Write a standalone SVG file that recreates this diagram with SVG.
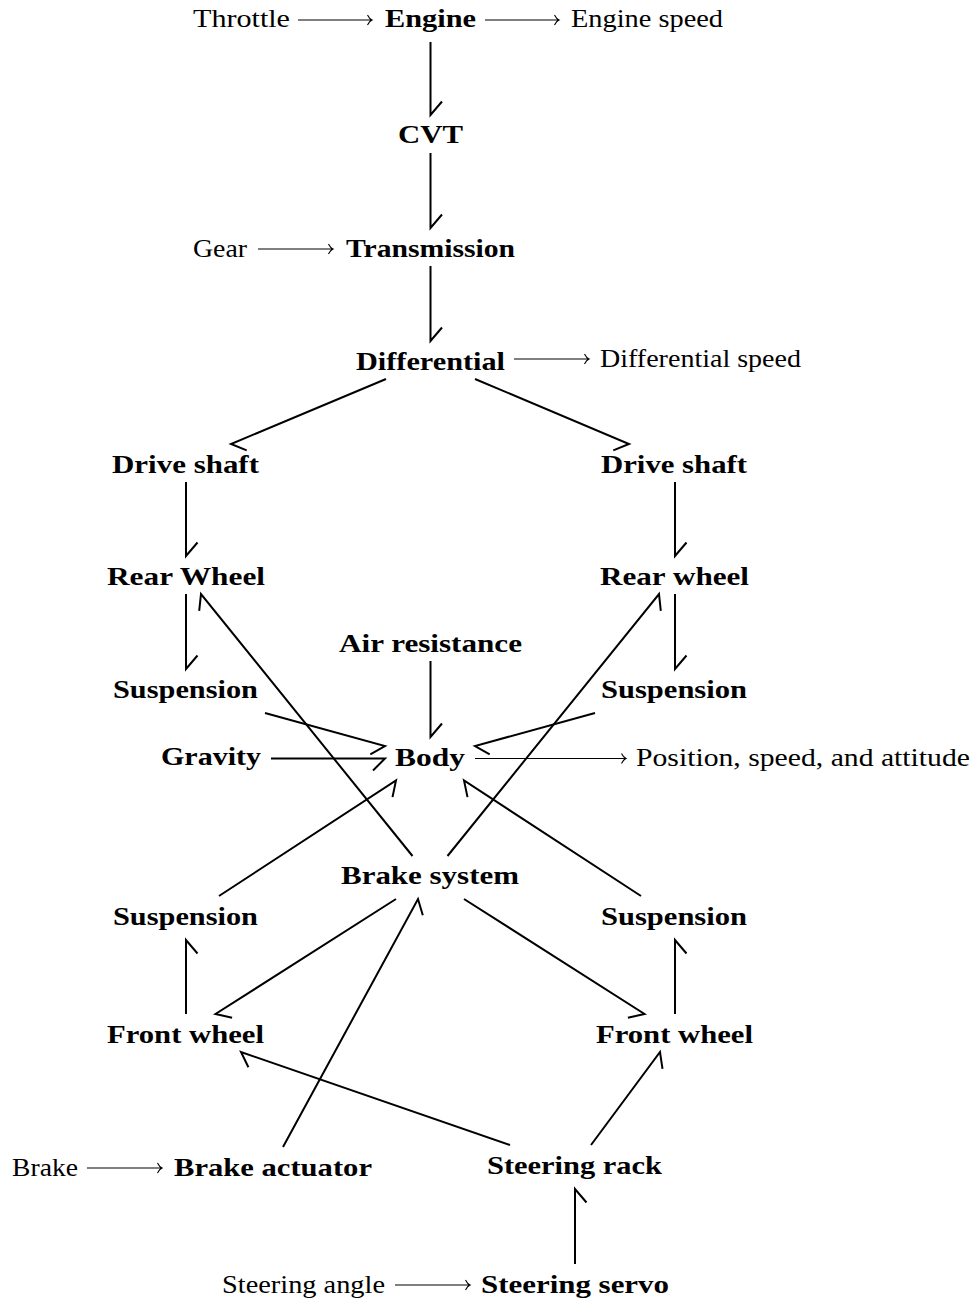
<svg xmlns="http://www.w3.org/2000/svg" width="975" height="1301" viewBox="0 0 975 1301">
<style>
text{font-family:"Liberation Serif","Times New Roman",serif;font-size:26px;fill:#000}
.b{font-weight:bold}
.e{stroke:#000;stroke-width:2;fill:none;stroke-linejoin:miter}
.a{stroke:#000;stroke-width:1.1;fill:none}
</style>
<rect width="975" height="1301" fill="#fff"/>
<g id="inputs">
<text x="193" y="27" textLength="97" lengthAdjust="spacingAndGlyphs">Throttle</text>
<text x="571" y="27" textLength="152" lengthAdjust="spacingAndGlyphs">Engine speed</text>
<text x="193" y="257" textLength="54" lengthAdjust="spacingAndGlyphs">Gear</text>
<text x="600" y="367" textLength="201" lengthAdjust="spacingAndGlyphs">Differential speed</text>
<text x="636" y="766" textLength="334" lengthAdjust="spacingAndGlyphs">Position, speed, and attitude</text>
<text x="12" y="1176" textLength="66" lengthAdjust="spacingAndGlyphs">Brake</text>
<text x="222" y="1293" textLength="163" lengthAdjust="spacingAndGlyphs">Steering angle</text>
</g>
<g id="engine"><text class="b" x="385" y="27" textLength="91" lengthAdjust="spacingAndGlyphs">Engine</text></g>
<g id="cvt"><text class="b" x="398" y="143" textLength="65" lengthAdjust="spacingAndGlyphs">CVT</text></g>
<g id="transmission"><text class="b" x="346" y="257" textLength="169" lengthAdjust="spacingAndGlyphs">Transmission</text></g>
<g id="differential"><text class="b" x="356" y="370" textLength="149" lengthAdjust="spacingAndGlyphs">Differential</text></g>
<g id="driveshaft-l"><text class="b" x="112" y="473" textLength="147" lengthAdjust="spacingAndGlyphs">Drive shaft</text></g>
<g id="driveshaft-r"><text class="b" x="601" y="473" textLength="146" lengthAdjust="spacingAndGlyphs">Drive shaft</text></g>
<g id="rearwheel-l"><text class="b" x="107" y="585" textLength="158" lengthAdjust="spacingAndGlyphs">Rear Wheel</text></g>
<g id="rearwheel-r"><text class="b" x="600" y="585" textLength="149" lengthAdjust="spacingAndGlyphs">Rear wheel</text></g>
<g id="air"><text class="b" x="339" y="652" textLength="183" lengthAdjust="spacingAndGlyphs">Air resistance</text></g>
<g id="susp-rl"><text class="b" x="113" y="698" textLength="145" lengthAdjust="spacingAndGlyphs">Suspension</text></g>
<g id="susp-rr"><text class="b" x="601" y="698" textLength="146" lengthAdjust="spacingAndGlyphs">Suspension</text></g>
<g id="gravity"><text class="b" x="161" y="765" textLength="100" lengthAdjust="spacingAndGlyphs">Gravity</text></g>
<g id="body"><text class="b" x="395" y="765.5" textLength="70" lengthAdjust="spacingAndGlyphs">Body</text></g>
<g id="brakesystem"><text class="b" x="341" y="884" textLength="178" lengthAdjust="spacingAndGlyphs">Brake system</text></g>
<g id="susp-fl"><text class="b" x="113" y="925" textLength="145" lengthAdjust="spacingAndGlyphs">Suspension</text></g>
<g id="susp-fr"><text class="b" x="601" y="925" textLength="146" lengthAdjust="spacingAndGlyphs">Suspension</text></g>
<g id="frontwheel-l"><text class="b" x="107" y="1043" textLength="157" lengthAdjust="spacingAndGlyphs">Front wheel</text></g>
<g id="frontwheel-r"><text class="b" x="596" y="1043" textLength="157" lengthAdjust="spacingAndGlyphs">Front wheel</text></g>
<g id="brakeactuator"><text class="b" x="174" y="1176" textLength="198" lengthAdjust="spacingAndGlyphs">Brake actuator</text></g>
<g id="steeringrack"><text class="b" x="487" y="1174" textLength="175" lengthAdjust="spacingAndGlyphs">Steering rack</text></g>
<g id="steeringservo"><text class="b" x="481" y="1293" textLength="188" lengthAdjust="spacingAndGlyphs">Steering servo</text></g>
<g id="connectors">
<path class="e" d="M430.5,42 V115 L442,101.5"/>
<path class="e" d="M430.5,153 V228 L442,214.5"/>
<path class="e" d="M430.5,266 V341 L442,327.5"/>
<path class="e" d="M386,379 L231,444 L246.7,450.4"/>
<path class="e" d="M475,379 L629,444 L613.3,450.4"/>
<path class="e" d="M186,482 V556 L197.5,542.5"/>
<path class="e" d="M675,482 V556 L686.5,542.5"/>
<path class="e" d="M186,594 V669 L197.5,655.5"/>
<path class="e" d="M675,594 V669 L686.5,655.5"/>
<path class="e" d="M430.5,661 V737 L442,723.5"/>
<path class="e" d="M265,713 L385,746 L370.3,754.4"/>
<path class="e" d="M271,758.5 H385 L373,770.5"/>
<path class="e" d="M595,713 L475,746 L489.7,754.4"/>
<path class="e" d="M412.5,856 L201,594 L199.2,610.9"/>
<path class="e" d="M447.5,856 L659,594 L660.8,610.9"/>
<path class="e" d="M219,896 L396,780.5 L392.5,797.1"/>
<path class="e" d="M641,896 L464,780.5 L467.5,797.1"/>
<path class="e" d="M396,899 L215.5,1014 L232.1,1017.7"/>
<path class="e" d="M464,899 L644.5,1014 L627.9,1017.7"/>
<path class="e" d="M186,1014 V940 L197.5,953.5"/>
<path class="e" d="M675,1014 V940 L686.5,953.5"/>
<path class="e" d="M283,1147 L418,899 L422.8,915.3"/>
<path class="e" d="M510,1145 L241,1052 L248.4,1067.3"/>
<path class="e" d="M591,1145 L660,1052 L662.5,1068.8"/>
<path class="e" d="M575,1264 V1189 L586.5,1202.5"/>
<path class="a" d="M298,20 H372 M367.5,15 Q369.5,19 372,20 Q369.5,21 367.5,25"/>
<path class="a" d="M485,20 H559 M554.5,15 Q556.5,19 559,20 Q556.5,21 554.5,25"/>
<path class="a" d="M258,249 H333 M328.5,244 Q330.5,248 333,249 Q330.5,250 328.5,254"/>
<path class="a" d="M514,359 H589 M584.5,354 Q586.5,358 589,359 Q586.5,360 584.5,364"/>
<path class="a" d="M475,758.5 H626 M621.5,753.5 Q623.5,757.5 626,758.5 Q623.5,759.5 621.5,763.5"/>
<path class="a" d="M87,1168 H162 M157.5,1163 Q159.5,1167 162,1168 Q159.5,1169 157.5,1173"/>
<path class="a" d="M395,1285 H470 M465.5,1280 Q467.5,1284 470,1285 Q467.5,1286 465.5,1290"/>
</g>
</svg>
